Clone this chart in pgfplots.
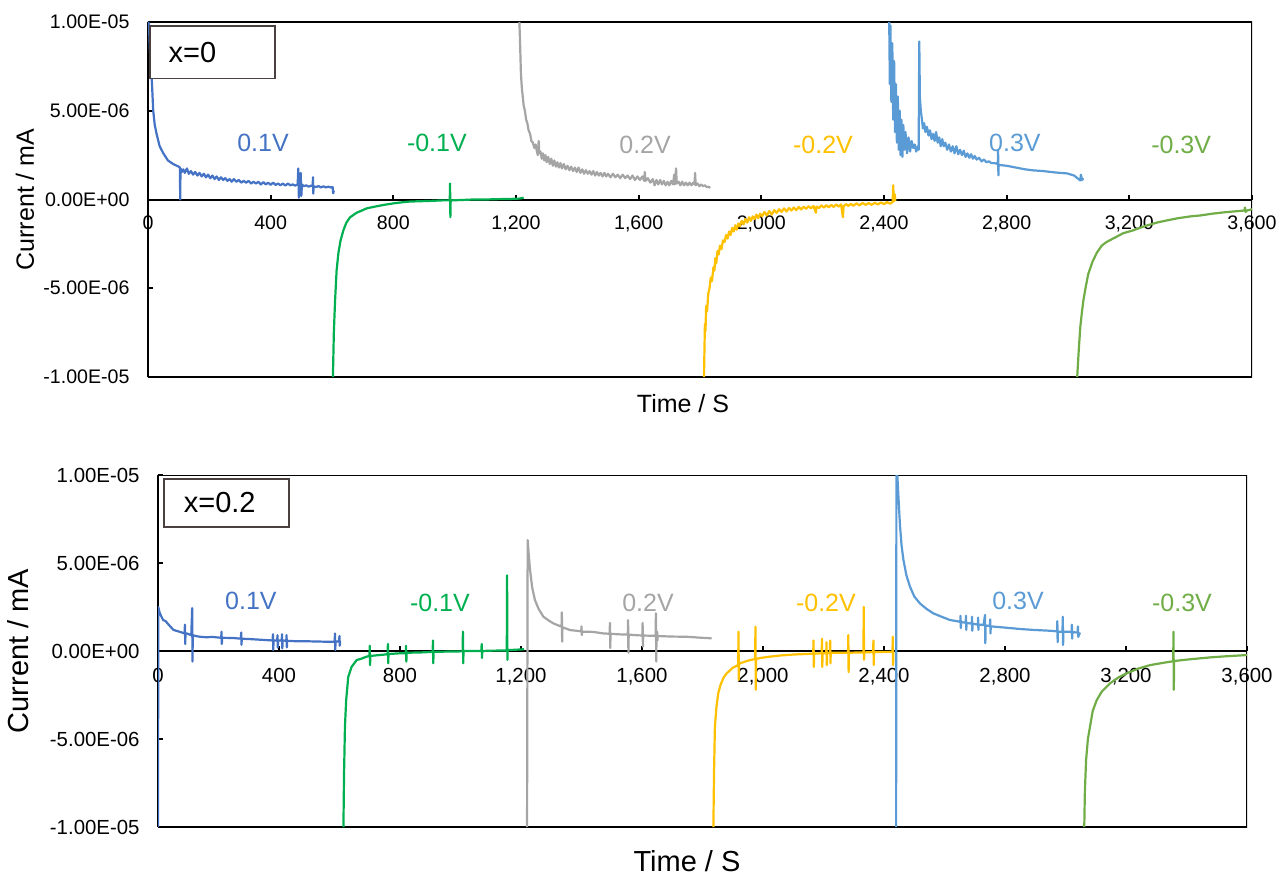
\documentclass[border=0pt]{standalone}
\usepackage{fontspec}
\setmainfont{Liberation Sans}
\usepackage{pgfplots}
\pgfplotsset{compat=1.18}
\definecolor{cA}{HTML}{4472C4}
\definecolor{cB}{HTML}{00B050}
\definecolor{cC}{HTML}{A5A5A5}
\definecolor{cD}{HTML}{FFC000}
\definecolor{cE}{HTML}{5B9BD5}
\definecolor{cF}{HTML}{70AD47}
\definecolor{boxc}{HTML}{4A4040}
\tikzset{lab/.style={font=\fontsize{12.5}{14}\selectfont}}
\pgfplotsset{
  myax/.style={
    scale only axis, anchor=south west,
    xmin=0, xmax=3600, ymin=-10, ymax=10,
    axis x line=middle, axis y line=left,
    axis line style={-, line width=1pt, black},
    hide obscured x ticks=false, hide obscured y ticks=false,
    tick align=inside, major tick length=2.5pt,
    tick style={line width=0.9pt, black},
    xtick={0,400,800,1200,1600,2000,2400,2800,3200,3600},
    xticklabels={\mbox{0},\mbox{400},\mbox{800},\mbox{1,200},\mbox{1,600},\mbox{2,000},\mbox{2,400},\mbox{2,800},\mbox{3,200},\mbox{3,600}},
    ytick={-10,-5,0,5,10},
    yticklabels={\mbox{-1.00E-05},\mbox{-5.00E-06},\mbox{0.00E+00},\mbox{5.00E-06},\mbox{1.00E-05}},
    /pgf/number format/assume math mode=true,
    every axis plot/.append style={no markers, line width=1.1pt, line join=round},
  },
}
\begin{document}
\begin{tikzpicture}
\path[use as bounding box] (0,0) rectangle (641.5pt,437.5pt);
% ---------------- top panel: x=0 ----------------
\begin{axis}[myax, at={(74pt,249pt)}, width=552pt, height=177.5pt,
  yticklabel style={font=\fontsize{9.8}{11}\selectfont, xshift=-5.7pt},
  xticklabel style={font=\fontsize{9.8}{11}\selectfont, yshift=-4.5pt},
  xlabel={Time / S}, ylabel={Current / mA},
  every axis x label/.style={at={(rel axis cs:0.5,0)}, anchor=center, xshift=-8.5pt, yshift=-13.5pt, font=\fontsize{12.5}{14}\selectfont},
  every axis y label/.style={at={(rel axis cs:0,0.5)}, xshift=-61.5pt, rotate=90, anchor=center, font=\fontsize{12.5}{14}\selectfont},
]
\draw[line width=1pt] (rel axis cs:0,0) rectangle (rel axis cs:1,1);
\addplot[cA] coordinates {(0,10) (3,9.9) (6,8.5) (9,7.6) (12,6.9) (17,5.0) (22,4.2) (28,3.7) (38,3.0) (50,2.6) (65,2.2) (82,2.0) (100,1.85) (104,1.8) (105,0) (106,1.75) (110,1.55) (115,1.7) (120,1.5) (127,1.75) (133,1.45) (140,1.6) (147,1.4) (154,1.55) (161,1.35) (168,1.5) (175,1.3) (182,1.45) (189,1.25) (196,1.4) (203,1.2) (210,1.35) (217,1.15) (224,1.3) (231,1.1) (238,1.25) (245,1.1) (252,1.2) (259,1.05) (266,1.15) (273,1.0) (280,1.15) (288,1.0) (296,1.1) (304,0.95) (312,1.05) (320,0.95) (328,1.05) (336,0.9) (344,1.0) (352,0.9) (360,1.0) (368,0.85) (376,0.98) (384,0.85) (392,0.95) (400,0.82) (408,0.95) (416,0.82) (424,0.9) (432,0.8) (440,0.9) (448,0.78) (456,0.9) (464,0.8) (472,0.85) (480,0.78) (488,0.85) (490,1.75) (492,0.1) (494,0.85) (498,1.5) (500,0.2) (502,0.85) (508,0.75) (516,0.8) (524,0.72) (532,0.78) (537,0.75) (538,1.26) (539,0.33) (540,0.75) (548,0.7) (556,0.76) (564,0.68) (572,0.74) (580,0.68) (588,0.72) (596,0.68) (602,0.7) (604,0.35) (606,0.5)};
\addplot[cB] coordinates {(603,-10) (606,-7.5) (610,-5.7) (615,-4.0) (621,-3.0) (628,-2.3) (637,-1.74) (647,-1.3) (659,-1.0) (680,-0.75) (700,-0.6) (713,-0.5) (740,-0.4) (770,-0.3) (800,-0.22) (822,-0.17) (850,-0.12) (880,-0.1) (920,-0.08) (960,-0.05) (984,-0.05) (985,0.9) (986,-1.0) (987,-0.05) (1020,-0.03) (1060,0.0) (1100,0.0) (1140,0.02) (1180,0.03) (1210,0.05) (1225,0.1)};
\addplot[cC] coordinates {(1211,10) (1213,9.0) (1216,7.1) (1219,6.3) (1222,5.8) (1225,5.3) (1229,5.0) (1233,4.5) (1237,4.3) (1241,3.9) (1246,3.7) (1250,3.3) (1255,3.2) (1260,2.9) (1264,3.1) (1267,2.8) (1271,2.5) (1274,3.3) (1276,2.6) (1280,2.7) (1284,2.3) (1288,2.6) (1292,2.2) (1296,2.5) (1300,2.1) (1305,2.4) (1310,2.0) (1315,2.3) (1320,1.9) (1325,2.2) (1330,1.85) (1335,2.1) (1340,1.8) (1345,2.05) (1350,1.75) (1356,2.0) (1362,1.7) (1368,1.9) (1374,1.65) (1380,1.85) (1386,1.6) (1392,1.8) (1398,1.55) (1404,1.8) (1410,1.5) (1416,1.7) (1422,1.45) (1428,1.65) (1434,1.45) (1440,1.6) (1446,1.4) (1452,1.6) (1458,1.35) (1464,1.55) (1470,1.35) (1476,1.5) (1482,1.3) (1488,1.5) (1494,1.3) (1500,1.45) (1508,1.25) (1516,1.45) (1524,1.25) (1532,1.4) (1540,1.2) (1548,1.4) (1556,1.2) (1564,1.35) (1572,1.15) (1580,1.35) (1588,1.1) (1596,1.3) (1604,1.1) (1612,1.3) (1618,1.05) (1620,1.55) (1622,1.05) (1630,1.2) (1638,0.95) (1646,1.15) (1652,0.8) (1658,1.1) (1664,0.85) (1670,1.1) (1676,0.85) (1682,1.05) (1688,0.8) (1694,1.0) (1700,0.8) (1706,1.05) (1712,0.85) (1716,1.4) (1718,0.85) (1722,1.75) (1724,0.9) (1730,1.0) (1736,0.8) (1742,1.0) (1748,0.8) (1754,0.95) (1760,0.8) (1766,0.95) (1772,0.8) (1778,0.95) (1782,0.85) (1784,1.5) (1786,0.8) (1792,0.9) (1798,0.75) (1804,0.85) (1810,0.75) (1816,0.8) (1822,0.7) (1828,0.72) (1833,0.65)};
\addplot[cD] coordinates {(1813,-10) (1815,-8.0) (1816,-7.0) (1818,-7.4) (1820,-6.0) (1823,-6.3) (1827,-5.3) (1831,-5.0) (1835,-4.4) (1839,-4.6) (1844,-3.8) (1847,-4.0) (1850,-3.3) (1853,-3.6) (1857,-2.9) (1861,-3.1) (1865,-2.6) (1870,-2.8) (1875,-2.3) (1880,-2.4) (1885,-2.0) (1890,-2.2) (1895,-1.8) (1900,-2.0) (1905,-1.6) (1910,-1.8) (1915,-1.45) (1920,-1.7) (1925,-1.35) (1930,-1.5) (1936,-1.2) (1942,-1.4) (1948,-1.1) (1954,-1.3) (1960,-1.0) (1966,-1.2) (1972,-0.95) (1978,-1.1) (1984,-0.85) (1990,-1.05) (1996,-0.8) (2002,-0.95) (2010,-0.7) (2018,-0.9) (2026,-0.65) (2034,-0.85) (2042,-0.6) (2050,-0.75) (2058,-0.55) (2066,-0.7) (2074,-0.5) (2082,-0.68) (2090,-0.48) (2098,-0.62) (2106,-0.45) (2114,-0.6) (2122,-0.42) (2130,-0.56) (2138,-0.4) (2146,-0.52) (2154,-0.38) (2162,-0.5) (2170,-0.36) (2178,-0.75) (2180,-0.4) (2188,-0.48) (2196,-0.33) (2204,-0.46) (2212,-0.32) (2220,-0.44) (2228,-0.3) (2236,-0.42) (2244,-0.28) (2252,-0.4) (2260,-0.27) (2266,-1.0) (2268,-0.38) (2276,-0.26) (2284,-0.36) (2292,-0.25) (2300,-0.35) (2310,-0.22) (2320,-0.33) (2330,-0.2) (2340,-0.3) (2350,-0.2) (2360,-0.3) (2370,-0.18) (2380,-0.28) (2390,-0.17) (2400,-0.26) (2410,-0.15) (2420,-0.24) (2428,-0.15) (2430,0.8) (2432,-0.1) (2435,0.3) (2437,-0.1)};
\addplot[cE] coordinates {(2417,10) (2419,6.5) (2421,9.8) (2424,5.5) (2427,8.8) (2430,4.5) (2433,7.8) (2436,3.8) (2439,6.5) (2442,3.2) (2445,5.8) (2448,2.8) (2451,5.0) (2454,2.5) (2457,4.5) (2460,2.4) (2463,4.2) (2466,2.8) (2470,3.8) (2475,2.6) (2480,3.5) (2485,2.7) (2490,3.3) (2495,2.9) (2500,3.1) (2505,2.7) (2510,3.0) (2513,2.8) (2515,8.9) (2517,5.8) (2520,5.0) (2523,4.6) (2527,4.0) (2531,4.3) (2535,3.8) (2540,4.1) (2545,3.6) (2550,3.9) (2555,3.4) (2560,3.7) (2565,3.3) (2570,3.8) (2575,3.2) (2580,3.5) (2585,3.0) (2590,3.4) (2595,3.0) (2600,3.2) (2606,2.8) (2612,3.1) (2618,2.7) (2624,3.0) (2630,2.6) (2636,3.0) (2642,2.55) (2648,2.8) (2654,2.5) (2660,2.75) (2666,2.4) (2672,2.6) (2678,2.35) (2684,2.55) (2690,2.3) (2696,2.45) (2702,2.25) (2710,2.35) (2718,2.15) (2726,2.25) (2734,2.1) (2742,2.15) (2750,2.05) (2760,2.05) (2771,2.0) (2772,2.8) (2773,1.36) (2774,1.95) (2800,1.9) (2830,1.8) (2860,1.7) (2887,1.64) (2920,1.6) (2960,1.52) (2997,1.47) (3020,1.35) (3040,1.07) (3042,1.4) (3046,1.1) (3050,1.2)};
\addplot[cF] coordinates {(3030,-10) (3035,-8.5) (3040,-7.2) (3045,-6.4) (3050,-5.7) (3058,-4.9) (3066,-4.2) (3080,-3.5) (3094,-3.0) (3110,-2.6) (3125,-2.4) (3147,-2.2) (3180,-1.9) (3212,-1.74) (3250,-1.5) (3290,-1.3) (3322,-1.18) (3360,-1.05) (3400,-0.95) (3431,-0.9) (3470,-0.8) (3510,-0.72) (3550,-0.66) (3575,-0.62) (3577,-0.45) (3579,-0.7) (3584,-0.62) (3600,-0.55)};
\node[lab, text=cA] at (axis cs:375,3.2) {0.1V};
\node[lab, text=cB] at (axis cs:942,3.2) {-0.1V};
\node[lab, text=cC] at (axis cs:1621,3.1) {0.2V};
\node[lab, text=cD] at (axis cs:2201,3.1) {-0.2V};
\node[lab, text=cE] at (axis cs:2827,3.2) {0.3V};
\node[lab, text=cF] at (axis cs:3369,3.1) {-0.3V};
\node[draw=boxc, line width=0.8pt, fill=white, anchor=north west, minimum height=26.3pt, inner xsep=9.3pt, inner ysep=0pt, text width=43.7pt, align=left, font=\fontsize{14.5}{16}\selectfont] at (rel axis cs:0.0012,0.9915) {x=0};
\end{axis}
% ---------------- bottom panel: x=0.2 ----------------
\begin{axis}[myax, at={(79pt,24pt)}, width=544.5pt, height=176pt,
  yticklabel style={font=\fontsize{10.2}{12}\selectfont, xshift=-5.7pt},
  xticklabel style={font=\fontsize{10.2}{12}\selectfont, yshift=-5pt},
  xlabel={Time / S}, ylabel={Current / mA},
  every axis x label/.style={at={(rel axis cs:0.5,0)}, anchor=center, xshift=-7.75pt, yshift=-17pt, font=\fontsize{14.5}{16}\selectfont},
  every axis y label/.style={at={(rel axis cs:0,0.5)}, xshift=-69.75pt, rotate=90, anchor=center, font=\fontsize{14.5}{16}\selectfont},
]
\draw[line width=1pt] (rel axis cs:0,0) rectangle (rel axis cs:1,1);
\addplot[cA] coordinates {(0,-10) (1,2.5) (5,2.2) (10,2.0) (17,1.76) (25,1.7) (35,1.5) (51,1.2) (70,1.1) (88,1.0) (89,1.5) (90,0.4) (91,1.0) (95,1.0) (110,0.9) (113,2.44) (114,-0.6) (115,0.9) (125,0.85) (139,0.81) (160,0.78) (180,0.8) (209,0.75) (210,1.1) (211,0.4) (212,0.75) (248,0.74) (274,0.7) (275,1.05) (276,0.35) (277,0.7) (300,0.68) (330,0.65) (359,0.62) (379,0.6) (380,0.95) (381,0.05) (382,0.6) (394,0.6) (395,0.9) (396,0.2) (397,0.6) (409,0.6) (410,0.95) (411,0.15) (412,0.6) (424,0.58) (425,0.9) (426,0.2) (427,0.58) (450,0.56) (500,0.55) (550,0.53) (584,0.53) (585,1.0) (586,0.05) (587,0.53) (598,0.55) (600,0.85) (601,0.3) (602,0.55)};
\addplot[cB] coordinates {(613,-10) (615,-7) (618,-4.3) (622,-2.8) (629,-1.46) (640,-0.9) (657,-0.51) (670,-0.45) (690,-0.32) (699,-0.28) (700,0.3) (701,-0.8) (702,-0.28) (750,-0.2) (759,-0.18) (760,0.4) (761,-0.7) (762,-0.17) (800,-0.13) (819,-0.12) (820,0.3) (821,-0.6) (822,-0.1) (870,-0.08) (908,-0.05) (909,0.6) (910,-0.7) (911,-0.05) (960,-0.03) (1007,-0.02) (1008,1.1) (1009,-0.7) (1010,0.0) (1050,0.0) (1069,0.0) (1070,0.4) (1071,-0.4) (1072,0.0) (1100,0.02) (1153,0.03) (1154,4.3) (1155,-0.5) (1156,0.05) (1190,0.08) (1210,0.1)};
\addplot[cC] coordinates {(1220,-10) (1222,6.3) (1226,5.4) (1230,4.6) (1237,3.6) (1246,2.9) (1258,2.4) (1274,1.95) (1290,1.75) (1307,1.57) (1334,1.38) (1335,2.2) (1336,0.53) (1337,1.35) (1362,1.19) (1399,1.12) (1400,1.4) (1401,0.9) (1402,1.1) (1420,1.1) (1440,1.08) (1472,1.0) (1493,0.98) (1494,1.6) (1495,0.17) (1496,0.98) (1520,0.95) (1553,0.93) (1554,1.76) (1555,-0.1) (1556,0.93) (1580,0.9) (1601,0.88) (1602,1.6) (1603,0.25) (1604,0.88) (1645,0.86) (1646,2.14) (1647,-0.6) (1648,0.86) (1650,1.1) (1651,0.6) (1652,0.85) (1700,0.82) (1748,0.81) (1790,0.76) (1830,0.72)};
\addplot[cD] coordinates {(1836,-10) (1838,-7) (1841,-4.3) (1846,-3.2) (1852,-2.4) (1860,-1.9) (1870,-1.5) (1880,-1.27) (1900,-0.95) (1918,-0.8) (1919,1.1) (1920,-1.65) (1921,-0.75) (1924,-0.7) (1950,-0.55) (1974,-0.45) (1975,1.38) (1976,-2.2) (1977,-0.45) (1990,-0.4) (2023,-0.32) (2060,-0.25) (2100,-0.2) (2140,-0.17) (2166,-0.15) (2167,0.6) (2168,-0.9) (2169,-0.15) (2194,-0.13) (2195,0.7) (2196,-0.9) (2197,-0.13) (2209,-0.12) (2210,0.5) (2211,-0.8) (2212,-0.12) (2221,-0.11) (2222,0.6) (2223,-0.7) (2224,-0.1) (2281,-0.1) (2282,0.9) (2283,-1.2) (2284,-0.1) (2320,-0.08) (2332,-0.08) (2333,2.5) (2334,-0.5) (2335,-0.08) (2364,-0.06) (2365,0.6) (2366,-0.8) (2367,-0.06) (2400,-0.05) (2428,-0.05) (2429,0.81) (2430,-0.8) (2431,-0.05)};
\addplot[cE] coordinates {(2440,-10) (2441,10.5) (2444,10) (2447,9.0) (2450,8.0) (2453,7.1) (2458,6.0) (2464,5.2) (2474,4.3) (2486,3.65) (2500,3.1) (2519,2.7) (2540,2.4) (2563,2.14) (2590,1.95) (2618,1.76) (2640,1.7) (2652,1.65) (2653,2.0) (2654,1.3) (2655,1.65) (2670,1.6) (2671,2.0) (2672,1.2) (2673,1.6) (2690,1.55) (2691,1.95) (2692,1.15) (2693,1.55) (2710,1.5) (2711,1.9) (2712,1.2) (2713,1.5) (2729,1.48) (2734,2.05) (2735,0.44) (2736,1.45) (2750,1.42) (2751,1.8) (2752,1.0) (2753,1.4) (2800,1.33) (2850,1.25) (2893,1.2) (2950,1.15) (2972,1.12) (2973,1.7) (2974,0.5) (2975,1.1) (2990,1.1) (2991,1.95) (2992,0.34) (2993,1.1) (3004,1.1) (3020,1.08) (3021,1.5) (3022,0.7) (3023,1.07) (3040,1.05) (3041,1.4) (3042,0.8) (3048,1.05)};
\addplot[cF] coordinates {(3062,-10) (3064,-8) (3068,-6.2) (3074,-5.0) (3081,-4.3) (3090,-3.4) (3103,-2.8) (3120,-2.3) (3147,-1.84) (3175,-1.5) (3202,-1.27) (3240,-1.0) (3280,-0.8) (3320,-0.68) (3356,-0.58) (3357,1.1) (3358,-2.2) (3359,-0.57) (3389,-0.51) (3430,-0.44) (3480,-0.36) (3530,-0.3) (3570,-0.26) (3600,-0.23)};
\node[lab, text=cA] at (axis cs:307,2.84) {0.1V};
\node[lab, text=cB] at (axis cs:932,2.75) {-0.1V};
\node[lab, text=cC] at (axis cs:1620,2.75) {0.2V};
\node[lab, text=cD] at (axis cs:2208,2.75) {-0.2V};
\node[lab, text=cE] at (axis cs:2843,2.84) {0.3V};
\node[lab, text=cF] at (axis cs:3385,2.75) {-0.3V};
\node[draw=boxc, line width=0.8pt, fill=white, anchor=north west, minimum height=23.85pt, inner xsep=9.85pt, inner ysep=0pt, text width=42.8pt, align=left, font=\fontsize{14.5}{16}\selectfont] at (rel axis cs:0.0049,0.9906) {x=0.2};
\end{axis}
\end{tikzpicture}
\end{document}
